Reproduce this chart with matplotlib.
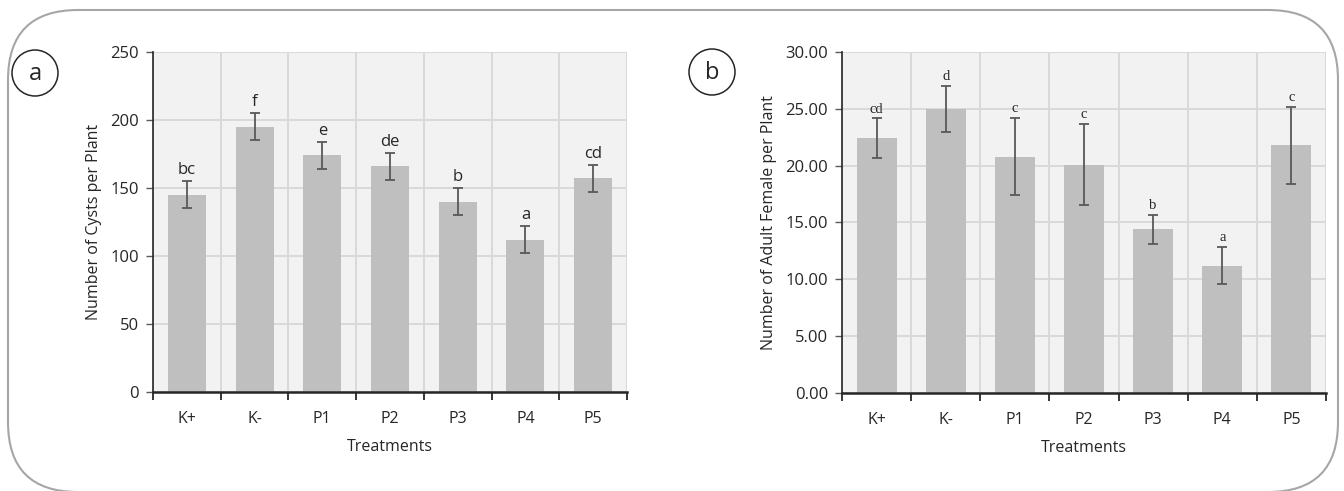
import numpy as np
import matplotlib.pyplot as plt
from matplotlib.patches import FancyBboxPatch, Circle
from matplotlib.ticker import FixedLocator, NullFormatter

## data
treatments = ['K+', 'K-', 'P1', 'P2', 'P3', 'P4', 'P5']

cysts_mean = [145, 195, 174, 166, 140, 112, 157]
cysts_err = [10, 10, 10, 10, 10, 10, 10]
cysts_letters = ['bc', 'f', 'e', 'de', 'b', 'a', 'cd']

female_mean = [22.4, 25.0, 20.8, 20.1, 14.4, 11.2, 21.8]
female_err = [1.75, 2.0, 3.4, 3.6, 1.3, 1.65, 3.4]
female_letters = ['cd', 'd', 'c', 'c', 'b', 'a', 'c']

plt.rcParams['font.family'] = ['Open Sans', 'DejaVu Sans']

W, H = 1344, 491
fig = plt.figure(figsize=(W / 100, H / 100), dpi=100)

# pixel-space overlay for the rounded frame and the panel tags
bg = fig.add_axes([0, 0, 1, 1])
bg.set_xlim(0, W)
bg.set_ylim(H, 0)
bg.axis('off')
bg.add_patch(FancyBboxPatch((8, 10), 1330, 482, boxstyle='round,pad=0,rounding_size=70',
                            fill=False, ec='#a6a6a6', lw=1.5))
for cx, cy, tag in [(35, 73, 'a'), (712, 72, 'b')]:
    bg.add_patch(Circle((cx, cy), 23, fill=False, ec='#262626', lw=1.1))
    bg.text(cx, cy + 1, tag, ha='center', va='center', fontsize=17, color='#262626')


def panel(rect, means, errs, letters, ylim, yticks, fmt, ylabel, letter_font, letter_size, bw):
    ax = fig.add_axes(rect)
    ax.set_facecolor('#f2f2f2')
    x = np.arange(len(treatments))
    ax.bar(x, means, width=bw, color='#bfbfbf', zorder=2)
    ax.errorbar(x, means, yerr=errs, fmt='none', ecolor='#595959', elinewidth=1.3,
                capsize=3.5, capthick=1.3, zorder=3)
    for xi, m, e, lab in zip(x, means, errs, letters):
        ax.annotate(lab, (xi, m + e), xytext=(0, 2), textcoords='offset points',
                    ha='center', va='bottom', fontsize=letter_size,
                    family=letter_font, color='#262626')
    ax.set_xlim(-0.5, len(treatments) - 0.5)
    ax.set_ylim(*ylim)
    ax.set_yticks(yticks)
    ax.set_yticklabels([fmt % v for v in yticks])
    # boundaries between categories carry the ticks and vertical grid
    ax.xaxis.set_major_locator(FixedLocator(np.arange(-0.5, len(treatments), 1.0)))
    ax.xaxis.set_major_formatter(NullFormatter())
    ax.xaxis.set_minor_locator(FixedLocator(x))
    ax.set_xticklabels(treatments, minor=True)
    ax.tick_params(axis='x', which='minor', length=0, pad=14, labelsize=11.5, labelcolor='#262626')
    ax.tick_params(axis='x', which='major', length=6, width=1.3, color='#262626')
    ax.tick_params(axis='y', length=5, width=1, color='#595959', labelsize=12,
                   labelcolor='#262626', pad=5)
    ax.grid(True, which='major', color='#d9d9d9', lw=1.4, zorder=0)
    ax.set_axisbelow(True)
    for s in ['top', 'right']:
        ax.spines[s].set_visible(False)
    ax.spines['left'].set_color('#262626')
    ax.spines['left'].set_linewidth(1.2)
    ax.spines['bottom'].set_color('#262626')
    ax.spines['bottom'].set_linewidth(1.8)
    ax.set_xlabel('Treatments', fontsize=11.5, color='#262626', labelpad=8)
    ax.set_ylabel(ylabel, fontsize=11.5, color='#262626', labelpad=6)
    return ax


panel([153 / W, 99 / H, 474 / W, 340 / H], cysts_mean, cysts_err, cysts_letters,
      (0, 250), [0, 50, 100, 150, 200, 250], '%d', 'Number of Cysts per Plant',
      ['Open Sans', 'DejaVu Sans'], 12, 0.56)
panel([842 / W, 98 / H, 484 / W, 341 / H], female_mean, female_err, female_letters,
      (0, 30), [0, 5, 10, 15, 20, 25, 30], '%.2f', 'Number of Adult Female per Plant',
      ['Liberation Serif', 'DejaVu Serif'], 10.5, 0.58)

plt.savefig('out.png', dpi=100)
